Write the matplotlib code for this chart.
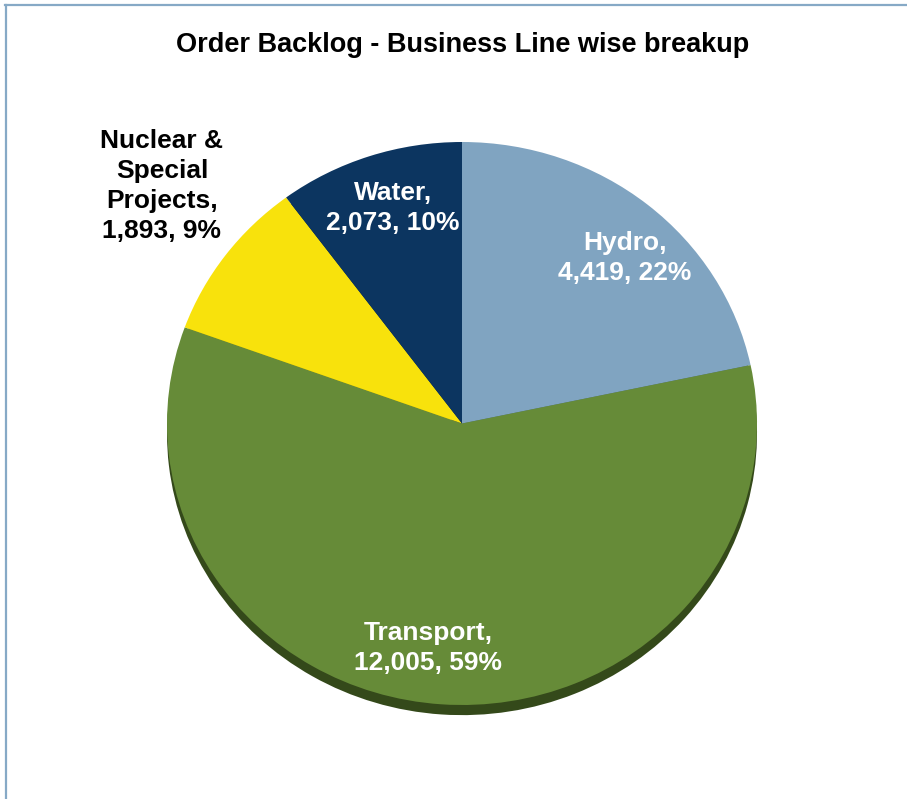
import matplotlib
matplotlib.use("Agg")
import matplotlib.pyplot as plt
from matplotlib.lines import Line2D

categories = ["Hydro", "Transport", "Nuclear &\nSpecial\nProjects", "Water"]
values = [4419, 12005, 1893, 2073]
colors = ["#80a4c1", "#668b38", "#f8e20c", "#0c3560"]
shadow_colors = ["#4f6e88", "#34491a", "#a99a08", "#06203c"]
title = "Order Backlog - Business Line wise breakup"

W, H = 907, 799
fig = plt.figure(figsize=(W / 100, H / 100), dpi=100)
fig.patch.set_facecolor("white")

def fx(px):
    return px / W

def fy(py):
    return 1 - py / H

# frame lines (top and left)
fig.add_artist(Line2D([fx(5), 1], [fy(5), fy(5)], color="#86a9c6", lw=1.6, transform=fig.transFigure))
fig.add_artist(Line2D([fx(6), fx(6)], [fy(5), 0], color="#86a9c6", lw=1.6, transform=fig.transFigure))

# pie axes: x -1..1 -> 167..757 px ; y 1..-1 -> 142..705 px
left, right, top, bottom_px = 167, 757, 142, 705
unit_y = (bottom_px - top) / 2.0
ylow = -1.06
ax_bottom_px = top + (1 - ylow) * unit_y
ax = fig.add_axes([fx(left), fy(ax_bottom_px), (right - left) / W, (ax_bottom_px - top) / H])

# depth/shadow
ax.pie(values, colors=shadow_colors, startangle=90, counterclock=False,
       center=(0, -0.036), radius=1.0, wedgeprops=dict(linewidth=0))
ax.pie(values, colors=colors, startangle=90, counterclock=False,
       center=(0, 0), radius=1.0, wedgeprops=dict(linewidth=0))
ax.set_aspect("auto")
ax.set_xlim(-1, 1)
ax.set_ylim(ylow, 1)
ax.axis("off")

total = sum(values)
labels = []
for c, v in zip(categories, values):
    labels.append(f"{c},\n{v:,}, {round(100 * v / total)}%")

font = ["Liberation Sans", "DejaVu Sans"]
fig.text(fx(463), fy(45), title, ha="center", va="center", fontsize=19.5,
         fontweight="bold", family=font)

label_pos = [(625, 258), (428, 648), (162, 186), (393, 208)]
label_col = ["white", "white", "black", "white"]
for lab, (px, py), col in zip(labels, label_pos, label_col):
    fig.text(fx(px), fy(py), lab, ha="center", va="center", fontsize=19,
             fontweight="bold", color=col, family=font, linespacing=1.33)

fig.savefig("out.png", dpi=100, facecolor="white")
